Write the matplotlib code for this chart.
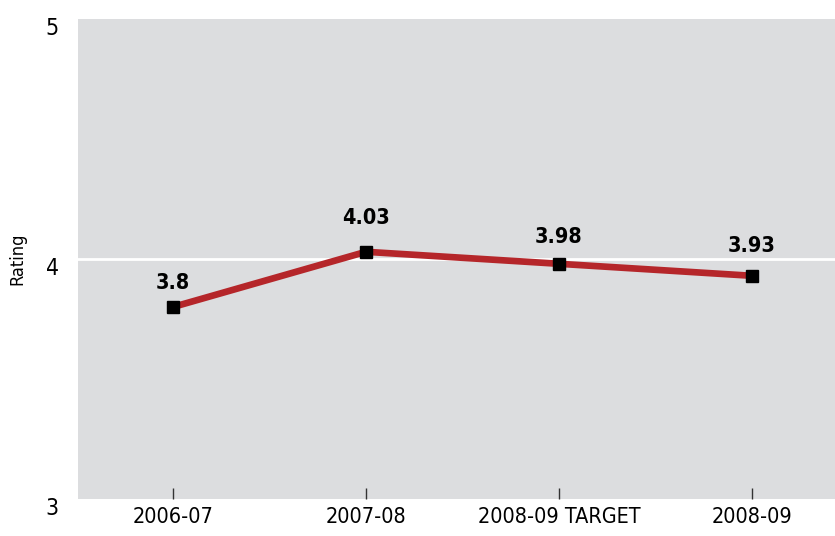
import matplotlib
matplotlib.use("Agg")
import matplotlib.pyplot as plt
from matplotlib.transforms import ScaledTranslation

# Data
periods = ["2006-07", "2007-08", "2008-09 TARGET", "2008-09"]
ratings = [3.8, 4.03, 3.98, 3.93]
value_labels = ["3.8", "4.03", "3.98", "3.93"]

# label lift above each marker (points), as placed in the original
label_lift = [13, 20, 15, 17]

plt.rcParams["font.family"] = ["DejaVu Sans"]
plt.rcParams["font.stretch"] = "condensed"

fig = plt.figure(figsize=(8.35, 5.36), dpi=100)
ax = fig.add_axes([0.0934, 0.069, 0.9066, 0.8956])
ax.set_facecolor("#dcdddf")

x = list(range(len(periods)))
ax.axhline(4, color="white", lw=2, zorder=1)
ax.plot(x, ratings, color="#b5262a", lw=4.8, zorder=2)
ax.plot(x, ratings, ls="none", marker="s", ms=9, color="black", zorder=3)

for xi, yi, lab, dy in zip(x, ratings, value_labels, label_lift):
    ax.annotate(lab, (xi, yi), xytext=(0, dy), textcoords="offset points",
                ha="center", va="baseline", fontsize=15.5, fontweight="bold")

ax.set_xlim(-0.492, 3.43)
ax.set_ylim(3, 5)
ax.set_xticks(x)
ax.set_xticklabels(periods, fontsize=15.5)
ax.set_yticks([3, 4, 5])
ax.set_yticklabels(["3", "4", "5"], fontsize=16.5)
ax.tick_params(axis="x", direction="in", length=8, width=1, color="#333333", pad=6)
ax.tick_params(axis="y", length=0, pad=14)

# y labels sit a little below their gridline in the original
shift = ScaledTranslation(0, -5 / 72, fig.dpi_scale_trans)
for t in ax.get_yticklabels():
    t.set_transform(t.get_transform() + shift)

for s in ax.spines.values():
    s.set_visible(False)
ax.set_ylabel("Rating", fontsize=13, labelpad=14)

fig.savefig("out.png", dpi=100)
